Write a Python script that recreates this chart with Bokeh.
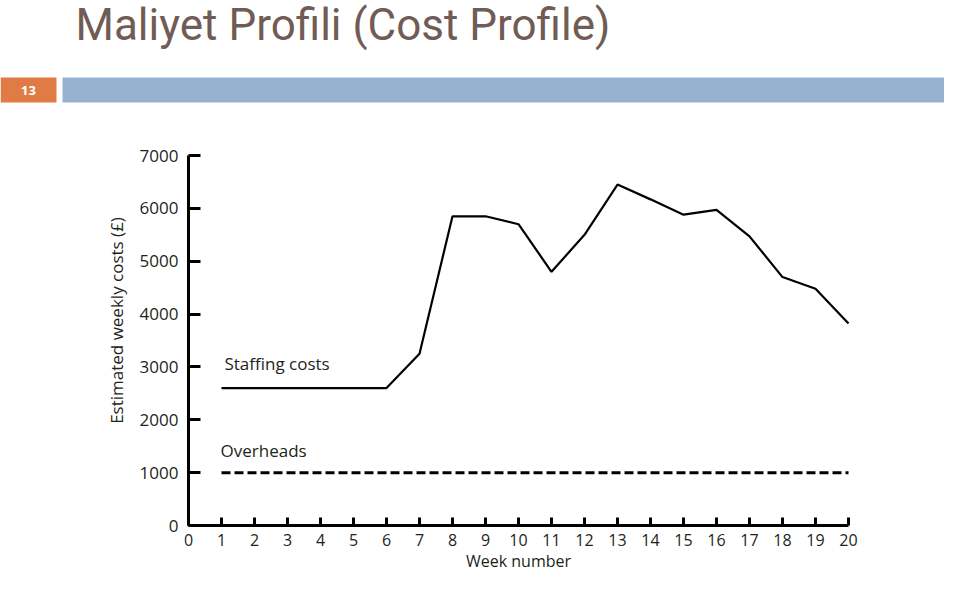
import math
from bokeh.plotting import figure
from bokeh.models import Range1d, Label, FixedTicker, BoxAnnotation
from bokeh.embed import file_html
from bokeh.resources import INLINE

# ---- data ----
weeks = list(range(1, 21))
staffing_costs = [2600, 2600, 2600, 2600, 2600, 2600, 3250, 5850, 5850, 5700,
                  4800, 5500, 6450, 6170, 5880, 5970, 5470, 4700, 4480, 3820]
overhead_weeks = list(range(1, 21))
overheads = [1000] * 20
x_ticks = list(range(0, 21))
y_ticks = list(range(0, 7001, 1000))
title_text = "Maliyet Profili (Cost Profile)"
slide_number = "13"
x_title = "Week number"
y_title = "Estimated weekly costs (£)"

W, H = 944, 573
FONT = "Open Sans"
INK = "#231F20"

# plot area placement (canvas px): x 0..20 -> X0..X1, y 0..7000 -> Y0..Y1
X0, X1, Y0, Y1 = 188, 848, 525, 155
xs = 20 / (X1 - X0)
ys = 7000 / (Y0 - Y1)
x_range = Range1d(-X0 * xs, 20 + (W - X1) * xs)
y_range = Range1d(-(H - Y0) * ys, 7000 + Y1 * ys)

p = figure(width=W, height=H, x_range=x_range, y_range=y_range, title=None,
           output_backend="svg", toolbar_location=None, min_border=0)
p.grid.visible = False
p.outline_line_color = None


def sy(py):  # canvas y (from top) -> screen units (from bottom)
    return H - py


def box(l, r, t, b, color):
    p.add_layout(BoxAnnotation(left=l, right=r, top=sy(t), bottom=sy(b),
                               left_units="screen", right_units="screen",
                               top_units="screen", bottom_units="screen",
                               fill_color=color, fill_alpha=1, line_color=None))


# ---- header ----
box(0, 56, 77, 102, "#E07B45")
box(62, W, 77, 102, "#95B3D0")
p.add_layout(Label(x=28, y=sy(90), x_units="screen", y_units="screen", text=slide_number,
                   text_align="center", text_baseline="middle", text_color="white",
                   text_font=FONT, text_font_size="13px", text_font_style="bold"))
p.add_layout(Label(x=75, y=sy(24), x_units="screen", y_units="screen", text=title_text,
                   text_align="left", text_baseline="alphabetic", text_color="#705C55",
                   text_font="Roboto", text_font_size="44px"))

# ---- series ----
p.line(weeks, staffing_costs, line_color="black", line_width=2.2)
p.line(overhead_weeks, overheads, line_color="black", line_width=3, line_dash="9 4")

# ---- axes ----
p.xaxis.fixed_location = 0
p.yaxis.fixed_location = 0
p.xaxis.bounds = (0, 20)
p.yaxis.bounds = (0, 7000)
p.xaxis.ticker = FixedTicker(ticks=x_ticks)
p.yaxis.ticker = FixedTicker(ticks=y_ticks)
for ax in (p.xaxis[0], p.yaxis[0]):
    ax.axis_line_width = 3
    ax.axis_line_color = "black"
    ax.major_tick_line_width = 3
    ax.major_tick_line_color = "black"
    ax.major_tick_out = 0
    ax.minor_tick_line_color = None
    ax.major_label_text_font = FONT
    ax.major_label_text_color = INK

p.xaxis.major_tick_in = 8
p.yaxis.major_tick_in = 12
p.xaxis.major_label_text_font_size = "16px"
p.yaxis.major_label_text_font_size = "17px"
p.xaxis.major_label_standoff = 8
p.yaxis.major_label_standoff = 10

# axis titles
p.add_layout(Label(x=(X0 + X1) / 2, y=sy(560), x_units="screen", y_units="screen", text=x_title,
                   text_align="center", text_baseline="middle", text_color=INK,
                   text_font=FONT, text_font_size="16px"))
p.add_layout(Label(x=116, y=sy(320), x_units="screen", y_units="screen", text=y_title,
                   angle=math.pi / 2, text_align="center", text_baseline="middle",
                   text_color=INK, text_font=FONT, text_font_size="17px"))

# in-plot series labels
p.add_layout(Label(x=1.09, y=2845, text="Staffing costs", text_font=FONT,
                   text_font_size="17px", text_color=INK))
p.add_layout(Label(x=0.97, y=1200, text="Overheads", text_font=FONT,
                   text_font_size="17px", text_color=INK))

open("out.html", "w").write(file_html(p, INLINE))
